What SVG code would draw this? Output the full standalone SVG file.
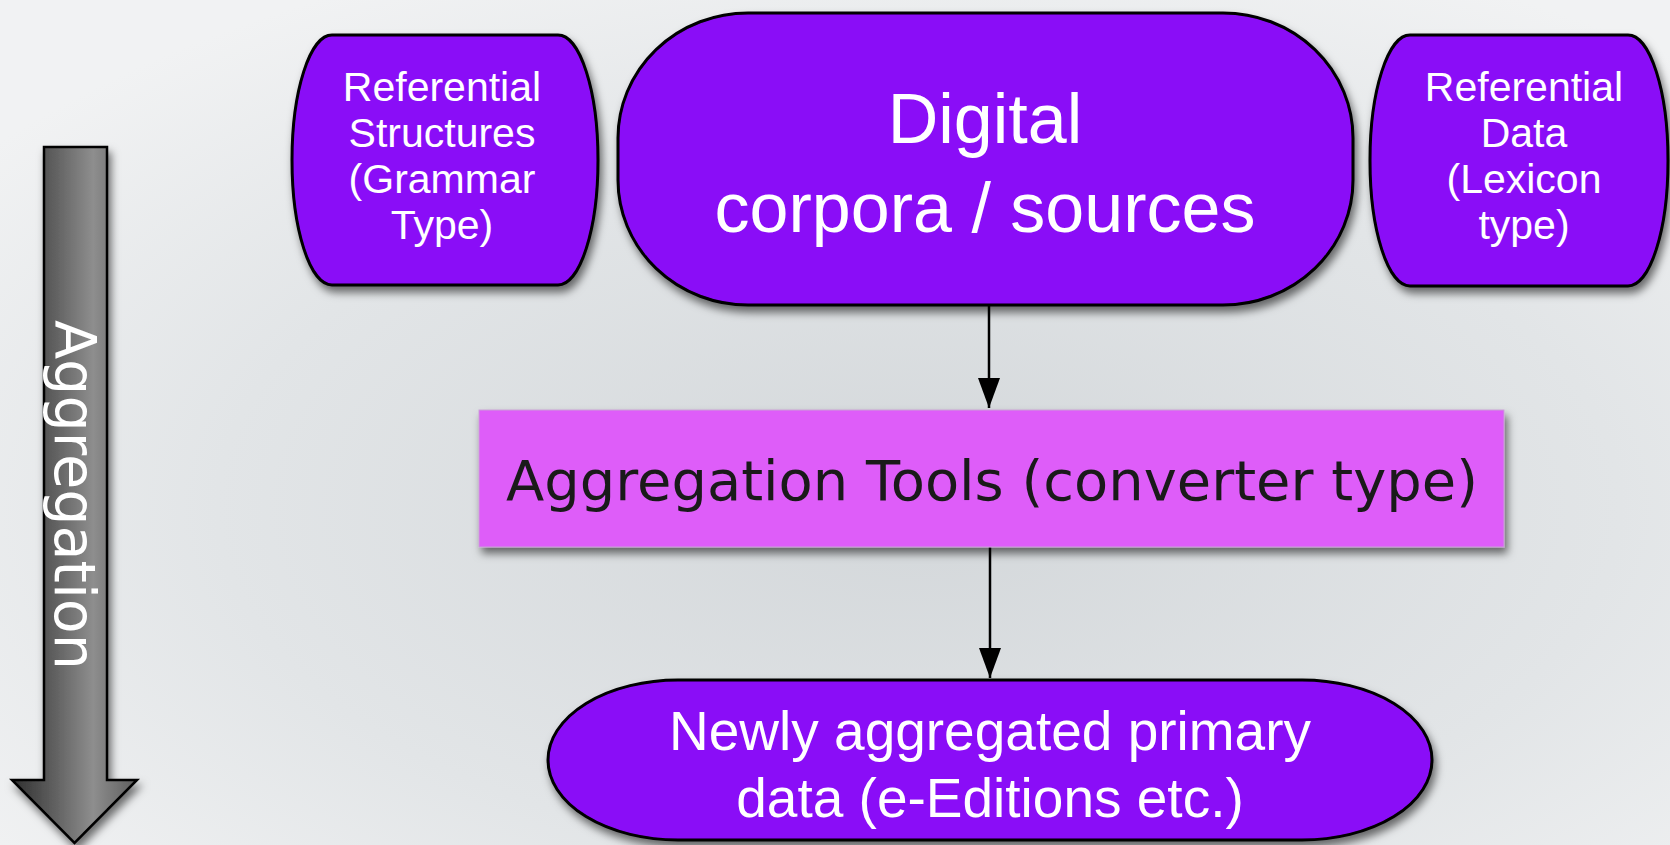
<svg xmlns="http://www.w3.org/2000/svg" width="1670" height="845" viewBox="0 0 1670 845">
<defs>
<radialGradient id="bg" cx="0.55" cy="0.6" r="0.7">
<stop offset="0" stop-color="#d3d7da"/>
<stop offset="0.6" stop-color="#e2e5e7"/>
<stop offset="1" stop-color="#f1f2f3"/>
</radialGradient>
<linearGradient id="shaft" x1="0" y1="0" x2="1" y2="0">
<stop offset="0" stop-color="#2e2e2e"/>
<stop offset="0.65" stop-color="#8e8e8e"/>
<stop offset="1" stop-color="#5c5c5c"/>
</linearGradient>
<filter id="sh" x="-10%" y="-10%" width="125%" height="130%">
<feDropShadow dx="3" dy="6" stdDeviation="4" flood-color="#000" flood-opacity="0.55"/>
</filter>
<marker id="ah" viewBox="0 0 30 22" refX="30" refY="11" markerWidth="30" markerHeight="22" markerUnits="userSpaceOnUse" orient="auto">
<path d="M0,0 L30,11 L0,22 Z" fill="#000"/>
</marker>
</defs>
<style>
.node{fill:#8a0df7;stroke:#000;stroke-width:3;filter:url(#sh)}
.lbl{font-family:"Liberation Sans",Arial,sans-serif;fill:#fff;text-anchor:middle}
.conn{stroke:#000;stroke-width:2.5;fill:none}
</style>
<rect x="0" y="0" width="1670" height="845" fill="url(#bg)"/>

<g id="aggregation-arrow">
<polygon points="44,147 107,147 107,780 137,780 74.5,843 12,780 44,780" fill="url(#shaft)" stroke="#000" stroke-width="2.5" stroke-linejoin="miter" filter="url(#sh)"/>
<text transform="translate(55,320) rotate(90)" font-family="DejaVu Sans, sans-serif" font-size="57" fill="#fff" textLength="350" lengthAdjust="spacingAndGlyphs">Aggregation</text>
</g>

<g id="connectors">
<line class="conn" x1="989" y1="306" x2="989" y2="408" marker-end="url(#ah)"/>
<line class="conn" x1="990" y1="547" x2="990" y2="678" marker-end="url(#ah)"/>
</g>

<g id="referential-structures">
<rect class="node" x="292" y="35" width="306" height="250" rx="40" ry="125"/>
<text class="lbl" font-size="41"><tspan x="442" y="101">Referential</tspan><tspan x="442" y="147">Structures</tspan><tspan x="442" y="193">(Grammar</tspan><tspan x="442" y="239">Type)</tspan></text>
</g>

<g id="digital-corpora">
<rect class="node" x="618" y="13" width="735" height="292" rx="130" ry="125"/>
<text class="lbl" font-size="70"><tspan x="985" y="143">Digital</tspan><tspan x="985" y="232">corpora / sources</tspan></text>
</g>

<g id="referential-data">
<rect class="node" x="1370" y="35" width="298" height="251" rx="40" ry="125"/>
<text class="lbl" font-size="41"><tspan x="1524" y="101">Referential</tspan><tspan x="1524" y="147">Data</tspan><tspan x="1524" y="193">(Lexicon</tspan><tspan x="1524" y="239">type)</tspan></text>
</g>

<g id="aggregation-tools">
<rect x="479" y="410" width="1025" height="137" fill="#de5df9" stroke="#c9a0d6" stroke-width="1" filter="url(#sh)"/>
<text x="506" y="500" font-family="DejaVu Sans, sans-serif" font-size="56" fill="#1a1a1a" textLength="972" lengthAdjust="spacingAndGlyphs">Aggregation Tools (converter type)</text>
</g>

<g id="aggregated-data">
<rect class="node" x="548" y="680" width="884" height="160" rx="130" ry="80"/>
<text class="lbl" font-size="55"><tspan x="990" y="750">Newly aggregated primary</tspan><tspan x="990" y="817">data (e-Editions etc.)</tspan></text>
</g>
</svg>
